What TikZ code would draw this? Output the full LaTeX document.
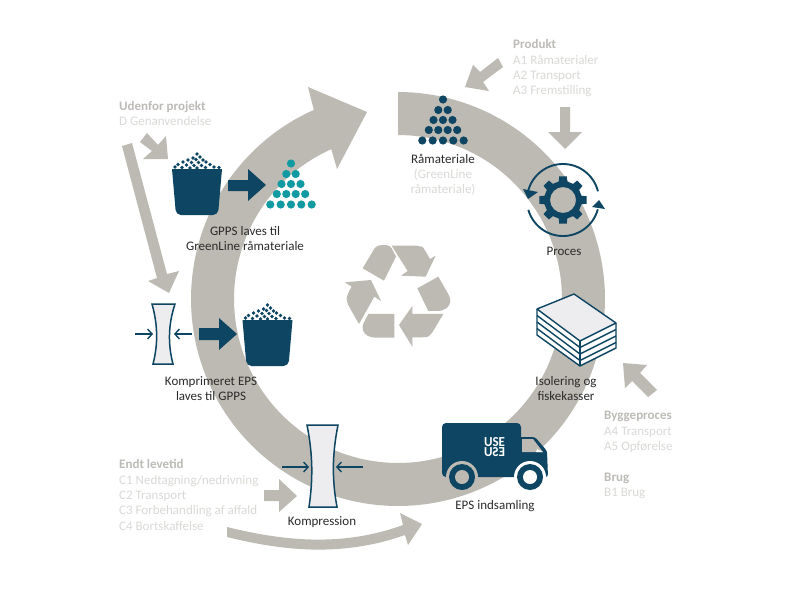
\documentclass[tikz,border=0pt]{standalone}
\usepackage{fontspec}
\setmainfont{Carlito}
\usetikzlibrary{arrows.meta}
\definecolor{ringc}{HTML}{BDBAB3}
\definecolor{darkc}{HTML}{0D4562}
\definecolor{tealc}{HTML}{119AA2}
\definecolor{paperc}{HTML}{EDECEE}
\definecolor{headc}{HTML}{BDBBB7}
\definecolor{softc}{HTML}{DAD9D6}
\definecolor{textc}{HTML}{2B2B2B}
\tikzset{
  lab/.style={anchor=base,inner sep=0pt,text=textc,font=\fontsize{13}{15}\selectfont},
  labl/.style={anchor=base west,inner sep=0pt,font=\fontsize{13}{15}\selectfont},
  head/.style={labl,text=headc,font=\fontsize{13}{15}\selectfont\bfseries},
  soft/.style={labl,text=softc},
  softmid/.style={lab,text=softc},
  grayarrow/.style={fill=ringc},
  darkarrow/.style={fill=darkc},
  press/.style={draw=darkc,line width=1.5pt,fill=paperc,line join=miter},
  pressarrow/.style={draw=darkc,line width=1.4pt,-{Straight Barb[length=4.5pt,width=10pt,line width=1.4pt]}},
  stackline/.style={draw=darkc,line width=1.4pt,line join=round},
  circarrow/.style={draw=darkc,line width=1.9pt},
}
\newcommand{\bucket}[2]{%
  \fill[darkc,rounded corners=0pt] (#1-25,#2) -- (#1+25,#2)
     [rounded corners=5pt] -- (#1+21,#2+46) -- (#1-21,#2+46) [rounded corners=0pt] -- cycle;
  \foreach \dx/\dy in {0/-15,-4/-11,3/-12,-9/-9,-1/-9.5,6/-9,-14/-7,-5.5/-6.5,1.5/-6.5,9/-7,-19/-4.5,-10.5/-4,-3/-3.5,4.5/-3.5,13/-4.5,-22/-2,-15/-1.5,-7/-1,0/-1,8.5/-1.5,17/-2,22/-1.5}
    \fill[darkc] (#1+\dx,#2+\dy) circle[radius=1.8pt];
}
\newcommand{\dotpile}[3]{%
  \foreach \px/\py in {0/0,-4.7/10.5,4.7/10.5,-9.5/20.5,0/20.5,9.5/20.5,-14.2/30.5,-4.7/30.5,4.7/30.5,14.2/30.5,-20.7/41,-10.3/41,0/41,10.3/41,20.7/41}
    \fill[#3] (#1+\px,#2+\py) circle[radius=4.1pt];
}
\begin{document}
\begin{tikzpicture}[x=1pt,y=-1pt]
\useasboundingbox (0,0) rectangle (786,600);
\fill[white] (0,0) rectangle (786,600);
% ring with arrowhead
\fill[ringc] plot[domain=90:-246,samples=170] ({398+207*cos(\x)},{299-207*sin(\x)})
  -- (308,87) -- (367,112) -- (337,169) --
  plot[domain=-246:90,samples=170] ({398+164*cos(\x)},{299-164*sin(\x)}) -- cycle;
% recycling symbol
\begin{scope}[shift={(335,235)},x=0.3333pt,y=-0.3333pt]
\fill[ringc] (83,100) -- (120,38) [rounded corners=4pt] -- (128,30) -- (165,30) [rounded corners=0pt] -- (183,65) -- (147,137) -- cycle;
\fill[ringc] (170,32) [rounded corners=4pt] -- (258,32) -- (268,42) [rounded corners=0pt] -- (285,72) -- (302,62) -- (272,125) -- (198,122) -- (218,108) -- cycle;
\fill[ringc] (247,160) -- (310,125) [rounded corners=4pt] -- (347,190) -- (345,212) -- (322,228) [rounded corners=0pt] -- (280,228) -- cycle;
\fill[ringc] (325,237) [rounded corners=4pt] -- (285,304) -- (270,307) [rounded corners=0pt] -- (232,307) -- (232,335) -- (192,270) -- (232,213) -- (232,237) -- cycle;
\fill[ringc] (178,237) -- (178,308) [rounded corners=4pt] -- (110,308) -- (88,298) -- (80,275) [rounded corners=0pt] -- (100,237) -- cycle;
\fill[ringc] (72,267) [rounded corners=4pt] -- (34,200) -- (36,180) [rounded corners=0pt] -- (50,155) -- (30,142) -- (108,135) -- (138,198) -- (118,185) -- cycle;
\end{scope}
% grey arrows
\fill[grayarrow] (465,87) -- (473,65) -- (480,72) -- (498,58) -- (503,67) -- (483,82) -- (489,91) -- cycle;
\fill[grayarrow] (560,107) -- (570,107) -- (570,132) -- (582,132) -- (565,149) -- (548,132) -- (560,132) -- cycle;
\fill[grayarrow] (140,142) -- (147,133) -- (158,145) -- (166,136) -- (168,159) -- (143,159) -- (152,151) -- cycle;
\fill[grayarrow] (122,146) -- (132,143) -- (167,274) -- (179,271) -- (169,293) -- (148,281) -- (157,278) -- cycle;
\fill[grayarrow] (264,490) -- (279,490) -- (279,479) -- (297,496) -- (279,512) -- (279,501) -- (264,501) -- cycle;
\fill[grayarrow] (227,527) .. controls (280,540) and (340,548) .. (403,525) -- (400,513) -- (422,524) -- (408,545) -- (405,535) .. controls (340,558) and (280,550) .. (227,537) -- cycle;
\fill[grayarrow] (623,363) -- (647,365) -- (640,373) -- (657,390) -- (648,397) -- (632,381) -- (625,388) -- cycle;
% dark arrows
\fill[darkarrow] (228,180) -- (248,180) -- (248,169) -- (266,185) -- (248,201) -- (248,191) -- (228,191) -- cycle;
\fill[darkarrow] (199,328) -- (219,328) -- (219,318) -- (237,334) -- (219,350) -- (219,340) -- (199,340) -- cycle;
% buckets and piles
\bucket{197}{169}
\bucket{267.5}{320}
\dotpile{291}{163.5}{tealc}
\dotpile{443}{99.5}{darkc}
% gear
\fill[darkc,even odd rule] ({563+19*cos(-13)},{200+19*sin(-13)})
  \foreach \a in {0,45,...,315}{ -- ({563+19*cos(\a-13)},{200+19*sin(\a-13)}) -- ({563+24*cos(\a-9)},{200+24*sin(\a-9)}) -- ({563+24*cos(\a+9)},{200+24*sin(\a+9)}) -- ({563+19*cos(\a+13)},{200+19*sin(\a+13)}) } -- cycle
  (563,200) circle[radius=13pt];
\draw[circarrow] plot[domain=14:168,samples=50] ({563+36*cos(\x)},{200-36*sin(\x)});
\fill[darkc] (523,189) -- (538,192) -- (528,199) -- cycle;
\draw[circarrow] plot[domain=196:345,samples=50] ({563+36*cos(\x)},{200-36*sin(\x)});
\fill[darkc] (592,207) -- (605,209) -- (599,200) -- cycle;
% stack
\fill[white] (537,309) -- (580,341) -- (616,323) -- (616,348) -- (580,366) -- (537,335) -- cycle;
\draw[stackline,fill=paperc] (537,309) -- (574,294) -- (616,323) -- (580,341) -- cycle;
\draw[stackline] (537,309) -- (537,335) -- (580,366) -- (616,348) -- (616,323);
\draw[stackline] (580,341) -- (580,366);
\foreach \h in {6.5,13,19.5}
  \draw[stackline] (537,309+\h) -- (580,341+\h) -- (616,323+\h);
% truck
\fill[darkc,rounded corners=4pt] (442,423) -- (521,423) -- (521,477) -- (442,477) -- cycle;
\fill[darkc,rounded corners=2.5pt] (519,437) -- (535,437) -- (547,451) -- (548,477) -- (519,477) -- cycle;
\fill[ringc] (522,439) -- (533,439) -- (543,452) -- (522,452) -- cycle;
\fill[white] (537,449) -- (543,452) -- (536,452) -- cycle;
\fill[ringc] (462,477) circle[radius=16pt];
\fill[darkc] (462,477) circle[radius=13pt];
\fill[ringc] (462,477) circle[radius=7pt];
\fill[white] (530,477) circle[radius=16pt];
\fill[darkc] (530,477) circle[radius=13pt];
\fill[white] (530,477) circle[radius=7pt];
\node[inner sep=0pt,text=white] (use1) at (494.5,442) {\resizebox{21pt}{9pt}{\bfseries USE}};
\node[inner sep=0pt,text=white] (use2) at (494.5,452.5) {\resizebox{21pt}{9pt}{\scalebox{-1}[1]{\bfseries ESU}}};
% press shapes
\draw[press] (307,425) -- (338,425) .. controls (332,455) and (332,480) .. (337,507) -- (309,507) .. controls (313,480) and (313,455) .. (307,425) -- cycle;
\draw[press] (152,304) -- (175,304) .. controls (168,325) and (168,345) .. (173,364) -- (153,364) .. controls (158,345) and (158,325) .. (152,304) -- cycle;
\coordinate (pa1) at (282,467); \coordinate (pa1e) at (309,467);
\coordinate (pa2) at (363,467); \coordinate (pa2e) at (336,467);
\coordinate (pb1) at (135,334); \coordinate (pb1e) at (153,334);
\coordinate (pb2) at (192,334); \coordinate (pb2e) at (174,334);
\draw[pressarrow] (pa1) -- (pa1e);
\draw[pressarrow] (pa2) -- (pa2e);
\draw[pressarrow] (pb1) -- (pb1e);
\draw[pressarrow] (pb2) -- (pb2e);
% texts
\node[head] (t1) at (513,48) {Produkt};
\node[soft] (t2) at (513,64) {A1 Råmaterialer};
\node[soft] (t3) at (513,79) {A2 Transport};
\node[soft] (t4) at (513,94) {A3 Fremstilling};
\node[head] (t5) at (119,110) {Udenfor projekt};
\node[soft] (t6) at (119,125) {D Genanvendelse};
\node[lab] (t7) at (245,235) {GPPS laves til};
\node[lab] (t8) at (245,250) {GreenLine råmateriale};
\node[lab] (t9) at (443,163) {Råmateriale};
\node[softmid] (t10) at (443,178) {(GreenLine};
\node[softmid] (t11) at (443,193) {råmateriale)};
\node[lab] (t12) at (564,255) {Proces};
\node[lab] (t13) at (211,385) {Komprimeret EPS};
\node[lab] (t14) at (211,400) {laves til GPPS};
\node[lab] (t15) at (566,385) {Isolering og};
\node[lab] (t16) at (566,400) {fiskekasser};
\node[head] (t17) at (604,419) {Byggeproces};
\node[soft] (t18) at (604,435) {A4 Transport};
\node[soft] (t19) at (604,450) {A5 Opførelse};
\node[head] (t20) at (604,481) {Brug};
\node[soft] (t21) at (604,496) {B1 Brug};
\node[head] (t22) at (119,468) {Endt levetid};
\node[soft] (t23) at (119,484) {C1 Nedtagning/nedrivning};
\node[soft] (t24) at (119,499) {C2 Transport};
\node[soft] (t25) at (119,514) {C3 Forbehandling af affald};
\node[soft] (t26) at (119,530) {C4 Bortskaffelse};
\node[lab] (t27) at (322,525) {Kompression};
\node[lab] (t28) at (495,509) {EPS indsamling};
\end{tikzpicture}
\end{document}
